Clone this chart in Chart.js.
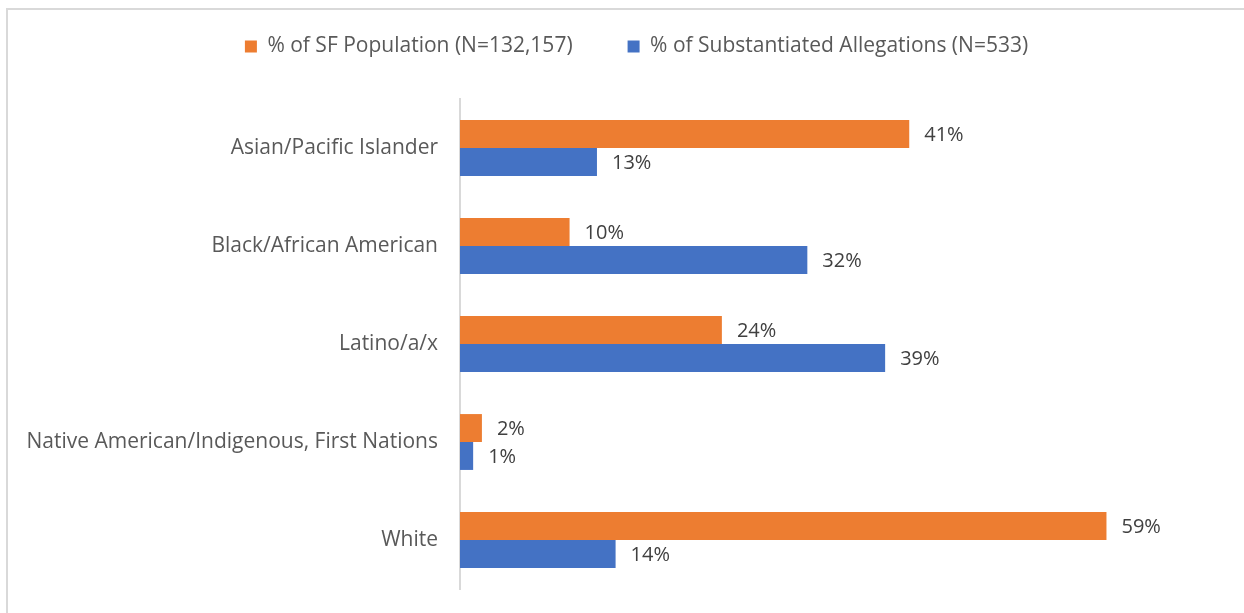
<!DOCTYPE html>
<html>
<head>
<meta charset="utf-8">
<script src="https://cdn.jsdelivr.net/npm/chart.js@4/dist/chart.umd.min.js"></script>
<style>
  html, body { margin: 0; padding: 0; background: #fff; }
  #wrap { position: relative; width: 1244px; height: 613px; overflow: hidden; }
  #frame { position: absolute; left: 6px; top: 8px; right: -20px; bottom: -20px;
           border-top: 2px solid #d9d9d9; border-left: 2px solid #d9d9d9; }
  canvas { position: absolute; left: 0; top: 0; }
</style>
</head>
<body>
<div id="wrap">
  <div id="frame"></div>
  <canvas id="chart" width="1244" height="613"></canvas>
</div>
<script>
var categories = [
  "Asian/Pacific Islander",
  "Black/African American",
  "Latino/a/x",
  "Native American/Indigenous, First Nations",
  "White"
]
var populationPct = [41, 10, 23.9, 2, 59]
var allegationPct = [12.5, 31.7, 38.8, 1.2, 14.2]
var seriesNames = ["% of SF Population (N=132,157)", "% of Substantiated Allegations (N=533)"]

var FONT = "'Open Sans', 'DejaVu Sans', sans-serif"

// write the % next to the end of each bar
var barLabels = {
  id: "barLabels",
  afterDatasetsDraw: function(chart) {
    var ctx = chart.ctx
    ctx.save()
    ctx.font = "20px " + FONT
    ctx.fillStyle = "#404040"
    ctx.textBaseline = "middle"
    ctx.textAlign = "left"
    chart.data.datasets.forEach(function(ds, i) {
      chart.getDatasetMeta(i).data.forEach(function(bar, j) {
        ctx.fillText(Math.round(ds.data[j]) + "%", bar.x + 15, bar.y + 1)
      })
    })
    ctx.restore()
  }
}

// extra room under the legend, and nudge it right a bit
var legendTweak = {
  id: "legendTweak",
  beforeInit: function(chart) {
    var lg = chart.legend
    var fit = lg.fit
    lg.fit = function() {
      fit.bind(lg)()
      this.height += 32
    }
    var draw = lg.draw
    lg.draw = function() {
      var ctx = chart.ctx
      ctx.save()
      ctx.translate(23, 0)
      draw.bind(lg)()
      ctx.restore()
    }
  }
}

new Chart(document.getElementById("chart"), {
  type: "bar",
  data: {
    labels: categories,
    datasets: [
      { label: seriesNames[0], data: populationPct, backgroundColor: "#ED7D31",
        categoryPercentage: 0.57, barPercentage: 1.0 },
      { label: seriesNames[1], data: allegationPct, backgroundColor: "#4472C4",
        categoryPercentage: 0.57, barPercentage: 1.0 }
    ]
  },
  options: {
    indexAxis: "y",
    responsive: false,
    animation: false,
    layout: { padding: { top: -19, right: 17, bottom: 24, left: 0 } },
    plugins: {
      legend: {
        position: "top",
        labels: {
          boxWidth: 12, boxHeight: 12, padding: 55,
          color: "#595959",
          font: { family: FONT, size: 21 }
        }
      },
      tooltip: { enabled: false }
    },
    scales: {
      x: { display: false, min: 0, max: 70 },
      y: {
        grid: { display: false, drawTicks: false },
        border: { display: true, color: "#d9d9d9", width: 2 },
        ticks: { color: "#595959", padding: 22, font: { family: FONT, size: 21 } },
        afterFit: function(scale) {
          scale.width = 460
          scale.paddingTop = 0
          scale.paddingBottom = 0
        }
      }
    }
  },
  plugins: [barLabels, legendTweak]
})
</script>
</body>
</html>
